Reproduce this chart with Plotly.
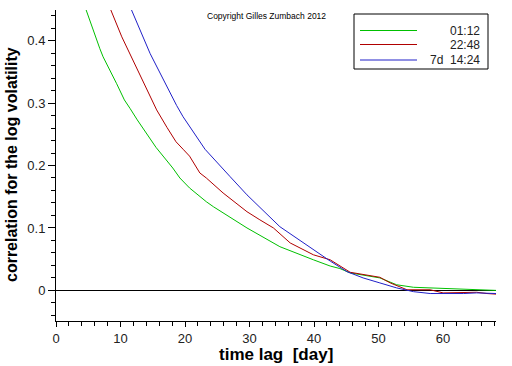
import plotly.graph_objects as go

# ---- data ----
green_x = [3.5, 4.5, 6.8, 7.3, 9.4, 10.6, 11.5, 12.6, 15.5, 18.1, 19.2, 20.7, 23.3, 24.4,
           29.6, 34.7, 39.9, 42.5, 44.0, 45.6, 50.2, 52.8, 55.4, 60.6, 65.7, 68.2]
green_y = [0.47, 0.454, 0.387, 0.374, 0.331, 0.305, 0.291, 0.273, 0.229, 0.196, 0.180, 0.164,
           0.142, 0.134, 0.100, 0.070, 0.049, 0.039, 0.035, 0.028, 0.020, 0.009, 0.005,
           0.003, 0.002, 0.000]

red_x = [7.6, 8.3, 10.2, 11.5, 12.5, 14.1, 15.6, 17.2, 18.6, 19.7, 20.7, 22.3, 23.3, 25.9,
         29.6, 31.6, 33.7, 36.3, 37.8, 39.9, 42.5, 44.5, 45.6, 50.2, 51.8, 54.4, 58.0,
         60.0, 63.2, 65.2, 66.8, 68.2]
red_y = [0.47, 0.454, 0.406, 0.378, 0.358, 0.321, 0.289, 0.261, 0.238, 0.226, 0.215, 0.188,
         0.180, 0.156, 0.126, 0.113, 0.100, 0.076, 0.068, 0.057, 0.049, 0.036, 0.029,
         0.021, 0.012, 0.001, 0.001, -0.004, -0.003, -0.003, -0.005, -0.006]

blue_x = [11.0, 11.5, 14.6, 17.2, 18.7, 19.7, 23.1, 27.0, 29.6, 34.7, 39.9, 42.5, 45.1,
          47.6, 50.2, 52.8, 55.4, 58.0, 63.2, 65.2, 68.2]
blue_y = [0.47, 0.454, 0.379, 0.326, 0.296, 0.278, 0.226, 0.182, 0.153, 0.102, 0.065, 0.047,
          0.030, 0.020, 0.012, 0.004, -0.002, -0.005, -0.005, -0.004, -0.005]

series_names = ["01:12", "22:48", "7d\u00a0 14:24"]
series_colors = ["#00c000", "#b00000", "#2020c8"]

x_title = "time lag\u00a0 [day]"
y_title = "correlation for the log volatility"
copyright_text = "Copyright Gilles Zumbach 2012"

# ---- figure ----
W, H = 512, 366
L, R, T, B = 56, 16, 10, 45
PW, PH = W - L - R, H - T - B


def px(xp):
    return (xp - L) / PW


def py(yp):
    return (H - B - yp) / PH


fig = go.Figure()
for xs, ys, name, col in zip([green_x, red_x, blue_x], [green_y, red_y, blue_y],
                             series_names, series_colors):
    fig.add_trace(go.Scatter(x=xs, y=ys, mode="lines", name=name,
                             line=dict(color=col, width=1), showlegend=False))

font_family = "Liberation Sans, Arial, sans-serif"

fig.update_layout(
    width=W, height=H,
    margin=dict(l=L, r=R, t=T, b=B, autoexpand=False),
    paper_bgcolor="white", plot_bgcolor="white",
    font=dict(family=font_family, color="#222"),
    xaxis=dict(range=[0, 68.2], showgrid=False, zeroline=False, automargin=False,
               showline=True, linecolor="black", linewidth=1,
               ticks="outside", ticklen=5, tickcolor="black", dtick=10,
               tickfont=dict(size=13, color="#222"),
               minor=dict(dtick=2, ticks="outside", ticklen=4, tickcolor="black")),
    yaxis=dict(range=[-0.049, 0.449], showgrid=False, automargin=False,
               zeroline=True, zerolinecolor="black", zerolinewidth=1,
               showline=True, linecolor="black", linewidth=1,
               ticks="outside", ticklen=7, tickcolor="black", dtick=0.1,
               tickformat="~g",
               tickfont=dict(size=13, color="#222"),
               minor=dict(dtick=0.02, ticks="outside", ticklen=4, tickcolor="black")),
)

# axis titles
fig.add_annotation(xref="paper", yref="paper", x=px(276), y=py(354),
                   text="<b>" + x_title + "</b>", showarrow=False,
                   xanchor="center", yanchor="middle",
                   font=dict(size=17, color="black", family=font_family))
fig.add_annotation(xref="paper", yref="paper", x=px(11), y=py(165),
                   text="<b>" + y_title + "</b>", showarrow=False, textangle=-90,
                   xanchor="center", yanchor="middle",
                   font=dict(size=16, color="black", family=font_family))

# custom legend box (right-aligned labels as in the reference)
fig.add_shape(type="rect", xref="paper", yref="paper",
              x0=px(354), x1=px(488), y0=py(69), y1=py(14),
              line=dict(color="black", width=1), fillcolor="white", layer="above")
legend_rows = [30.5, 44.5, 60.0]
for yy, name, col in zip(legend_rows, series_names, series_colors):
    fig.add_shape(type="line", xref="paper", yref="paper",
                  x0=px(360), x1=px(417), y0=py(yy), y1=py(yy),
                  line=dict(color=col, width=1), layer="above")
    fig.add_annotation(xref="paper", yref="paper", x=px(481), y=py(yy),
                       text=name, showarrow=False, xanchor="right", yanchor="middle",
                       borderpad=0,
                       font=dict(size=12, color="#222", family=font_family))

fig.add_annotation(xref="paper", yref="paper", x=px(266), y=py(16),
                   text=copyright_text, showarrow=False, xanchor="center",
                   yanchor="middle", font=dict(size=8.5, color="black", family=font_family))

fig.write_html("out.html",
               config={"displayModeBar": False},
               post_script="document.body.style.margin='0';document.body.style.overflow='hidden';")
